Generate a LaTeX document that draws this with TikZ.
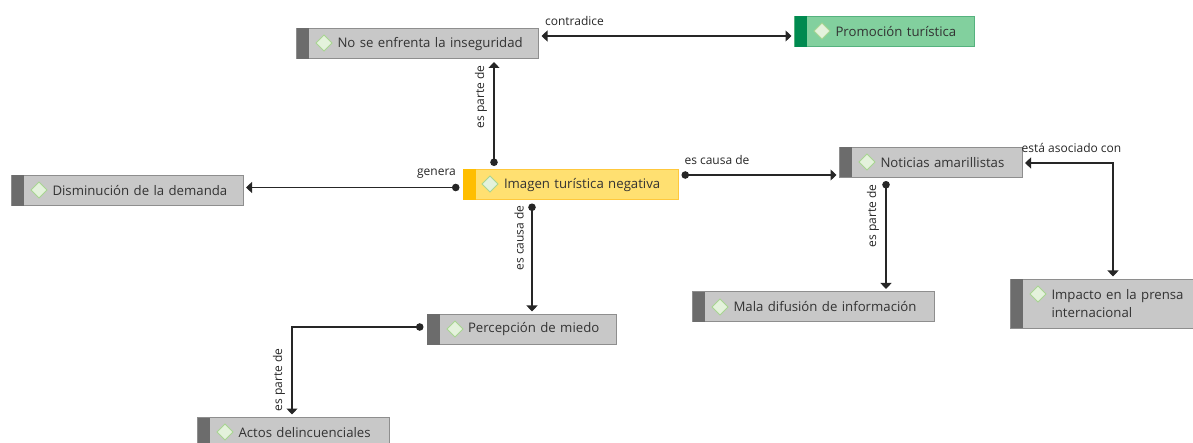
\documentclass[tikz,border=0pt]{standalone}
\usepackage{fontspec}
\setmainfont{Open Sans}
\usetikzlibrary{arrows.meta,calc}
\definecolor{greyfill}{HTML}{C8C8C8}
\definecolor{greyedge}{HTML}{8E8E8E}
\definecolor{greystrip}{HTML}{6C6C6C}
\definecolor{yelfill}{HTML}{FFE071}
\definecolor{yeledge}{HTML}{FFC83C}
\definecolor{yelstrip}{HTML}{FFBE00}
\definecolor{grnfill}{HTML}{82D09E}
\definecolor{grnedge}{HTML}{55B27E}
\definecolor{grnstrip}{HTML}{008A50}
\definecolor{difill}{HTML}{E4F2DC}
\definecolor{diedge}{HTML}{A8D592}
\definecolor{tcol}{HTML}{333333}
\tikzset{
  x=1pt,y=-1pt,
  boxnode/.style={draw=greyedge,fill=greyfill,line width=1pt,outer sep=0pt,inner sep=0pt,
    font=\fontsize{13.2}{18}\selectfont,text=tcol,
    execute at begin node={\leftskip=41pt\rightskip=0pt plus 1fil\parindent=0pt\relax}},
  labelnode/.style={inner sep=0pt,font=\fontsize{12}{14}\selectfont,text=black!85},
  link/.style={line width=1.15pt,draw=black!85,
    shorten <=3.5pt,shorten >=3pt},
  dotarrow/.style={link,{Circle[length=7.5pt,width=7.5pt]}-{Triangle[length=6pt,width=11pt]}},
  twoarrow/.style={link,shorten <=3pt,{Triangle[length=6pt,width=11pt]}-{Triangle[length=6pt,width=11pt]}},
  diamondmark/.style={draw=diedge,fill=difill,line width=1pt}
}
% name, x1, y1, x2, y2, text, fill, edge, strip
\newcommand{\kbox}[9]{%
  \pgfmathsetmacro{\kw}{#4-#2}\pgfmathsetmacro{\kh}{#5-#3}%
  \node[boxnode,fill=#7,draw=#8,minimum width=\kw pt,minimum height=\kh pt,text width=\kw pt] (#1) at ({(#2+#4)/2},{(#3+#5)/2}) {#6};
  \fill[#9] (#2,#3) rectangle ({#2+12.5},#5);
}
\newcommand{\kdiamond}[2]{%
  \draw[diamondmark] ({#1-8},#2) -- (#1,{#2-8}) -- ({#1+8},#2) -- (#1,{#2+8}) -- cycle;
}
\begin{document}
\begin{tikzpicture}
\useasboundingbox (0,0) rectangle (1193,443);
\clip (0,0) rectangle (1193,443);
\kbox{nose}{296.5}{28.5}{538.5}{59}{No se enfrenta la inseguridad}{greyfill}{greyedge}{greystrip}
\kdiamond{324}{43}
\kbox{promo}{794.5}{16.5}{974}{47}{Promoción turística}{grnfill}{grnedge}{grnstrip}
\kdiamond{822}{31}
\kbox{imagen}{463}{169.5}{678}{200}{Imagen turística negativa}{yelfill}{yeledge}{yelstrip}
\kdiamond{490}{184}
\kbox{dism}{11.5}{175.5}{243}{206}{Disminución de la demanda}{greyfill}{greyedge}{greystrip}
\kdiamond{39}{190}
\kbox{notic}{839.5}{147.5}{1022}{177.5}{Noticias amarillistas}{greyfill}{greyedge}{greystrip}
\kdiamond{867}{162}
\kbox{mala}{692.5}{292}{934}{322}{Mala difusión de información}{greyfill}{greyedge}{greystrip}
\kdiamond{720}{307}
\kbox{impacto}{1010.5}{279.5}{1197}{328}{Impacto en la prensa\\internacional}{greyfill}{greyedge}{greystrip}
\kdiamond{1038}{294}
\kbox{percep}{427}{314.5}{616}{344.5}{Percepción de miedo}{greyfill}{greyedge}{greystrip}
\kdiamond{455}{329}
\kbox{actos}{197.5}{417.5}{389}{448}{Actos delincuenciales}{greyfill}{greyedge}{greystrip}
\kdiamond{225}{432}

\draw[dotarrow] ($(imagen.north west)+(31,0)$) -- ($(nose.south west)+(197.5,0)$);
\draw[twoarrow] ($(nose.north east)+(0,7.5)$) -- ($(promo.north west)+(0,19.5)$);
\draw[dotarrow] ($(imagen.north west)+(0,18)$) -- ($(dism.north east)+(0,12)$);
\draw[dotarrow] ($(imagen.south west)+(69,0)$) -- ($(percep.north west)+(105,0)$);
\draw[dotarrow] ($(imagen.north east)+(0,5.5)$) -- ($(notic.north west)+(0,27.5)$);
\draw[dotarrow] ($(notic.south west)+(46.5,0)$) -- ($(mala.north west)+(193.5,0)$);
\draw[twoarrow] ($(notic.north east)+(0,15.5)$) -| ($(impacto.north west)+(102.5,0)$);
\draw[dotarrow] ($(percep.north west)+(0,12.5)$) -| ($(actos.north west)+(94.5,0)$);

\node[labelnode] (l1) at (574.5,21) {contradice};
\node[labelnode,rotate=90] (l2) at (481,97) {es parte de};
\node[labelnode] (l3) at (436.5,173.5) {genera};
\node[labelnode] (l4) at (717,160.5) {es causa de};
\node[labelnode,rotate=90] (l5) at (519,238) {es causa de};
\node[labelnode,rotate=90] (l6) at (873,216) {es parte de};
\node[labelnode] (l7) at (1071.5,148) {está asociado con};
\node[labelnode,rotate=90] (l8) at (279,380) {es parte de};
\end{tikzpicture}
\end{document}
